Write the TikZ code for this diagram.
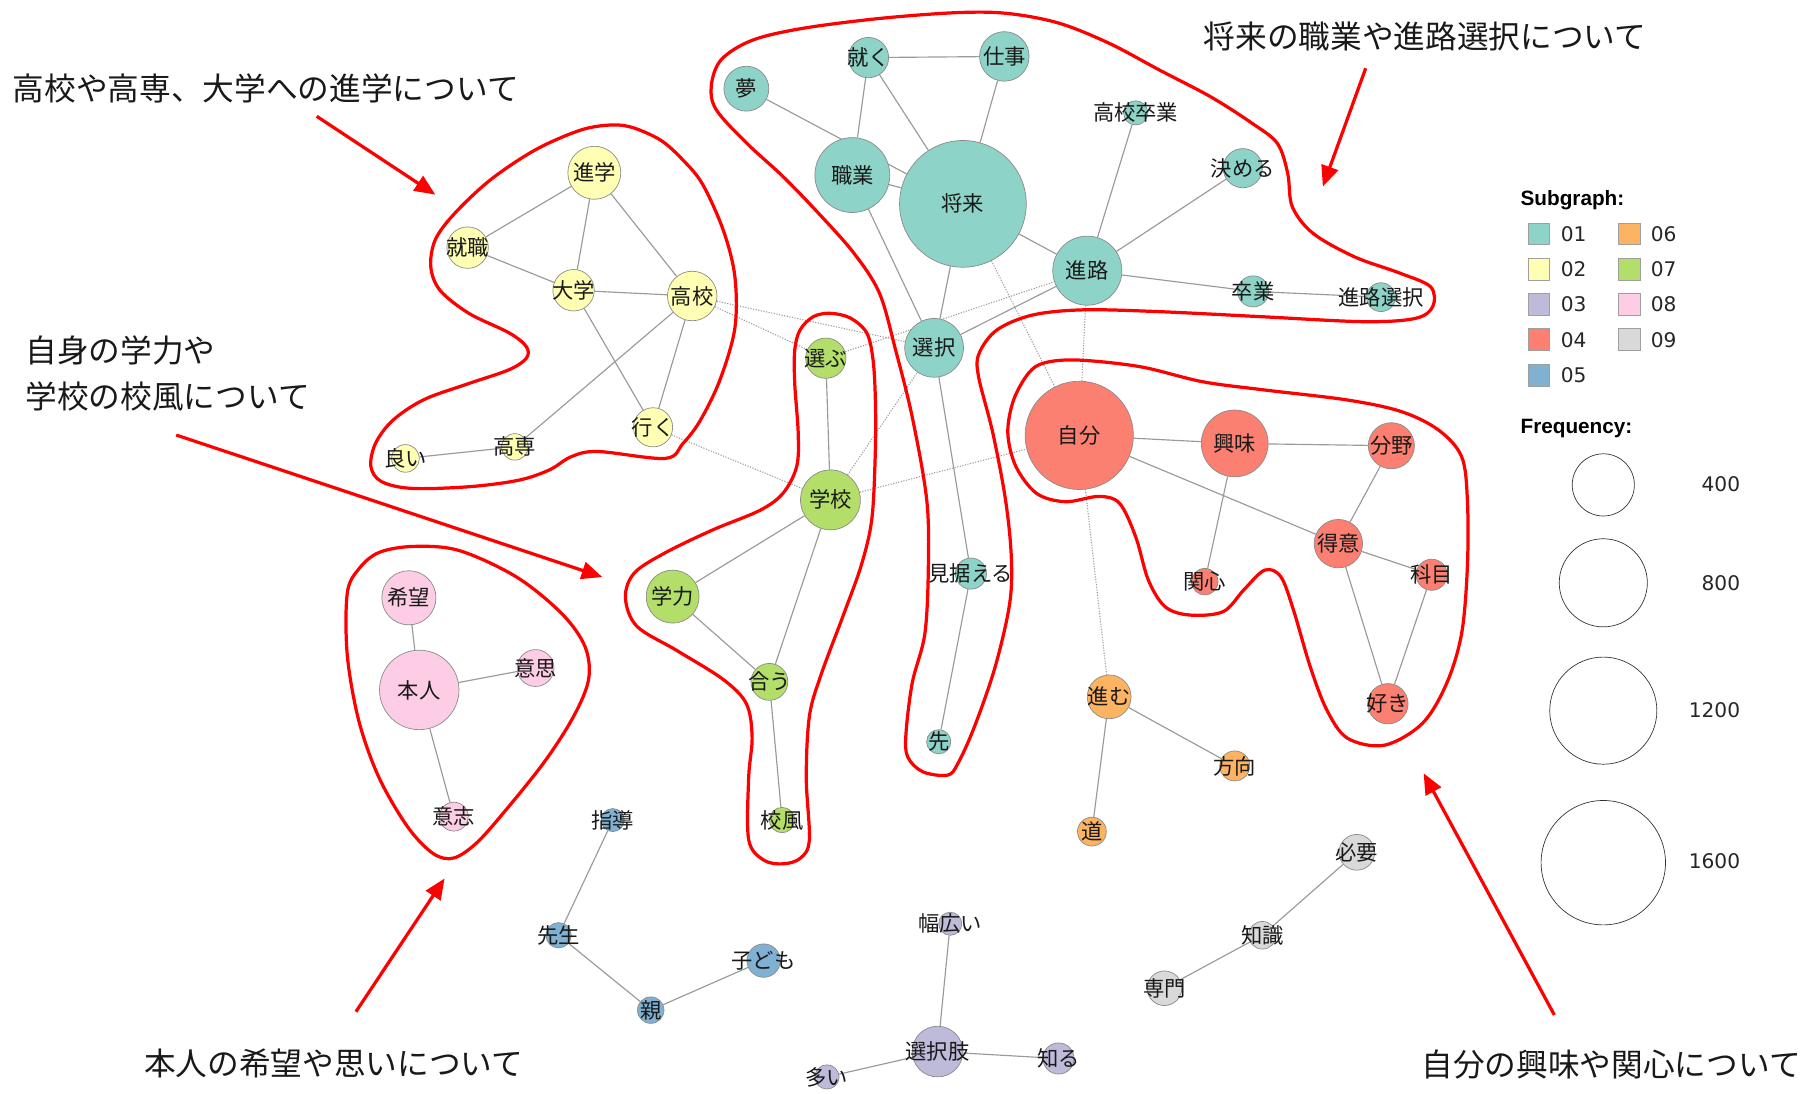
\documentclass[tikz,border=0pt]{standalone}
\usepackage{fontspec}
\newfontfamily\jpfont{Noto Sans CJK JP}
\newfontfamily\lgfont{DejaVu Sans}
\newfontfamily\hdfont{Liberation Sans}
\usetikzlibrary{arrows.meta,backgrounds}
\definecolor{cA}{HTML}{8DD3C7}
\definecolor{cB}{HTML}{FFFFB3}
\definecolor{cC}{HTML}{BEBADA}
\definecolor{cD}{HTML}{FB8072}
\definecolor{cE}{HTML}{80B1D3}
\definecolor{cF}{HTML}{FDB462}
\definecolor{cG}{HTML}{B3DE69}
\definecolor{cH}{HTML}{FCCDE5}
\definecolor{cI}{HTML}{D9D9D9}
\definecolor{nodeedge}{HTML}{8A8A8A}
\definecolor{linkc}{HTML}{9A9A9A}
\definecolor{redc}{HTML}{FF0000}
\tikzset{
  wn/.style={circle, draw=nodeedge, line width=0.6pt, inner sep=0pt},
  lab/.style={font=\jpfont\fontsize{18.5}{20}\selectfont, inner sep=0pt, text=black!90},
  link/.style={draw=linkc, line width=1pt},
  dlink/.style={draw=linkc, line width=0.9pt, dash pattern=on 1pt off 1.3pt},
  outline/.style={draw=redc, line width=2.8pt},
  callout/.style={draw=redc, line width=2.8pt, -{Triangle[length=18pt,width=15pt]}},
  ttl/.style={font=\jpfont\fontsize{27.5}{30}\selectfont, anchor=west, inner sep=0pt, text=black!90},
  sq/.style={rectangle, draw=gray!75, line width=0.6pt, minimum size=19, inner sep=0pt},
  lgt/.style={font=\lgfont\fontsize{17.5}{20}\selectfont, inner sep=0pt, text=black!85},
  lgh/.style={font=\hdfont\bfseries\fontsize{18}{20}\selectfont, anchor=west, inner sep=0pt},
  fc/.style={circle, draw=black!80, line width=0.6pt, inner sep=0pt}
}
\newcommand{\kw}[5]{\node[wn,fill=#2,minimum size=#4,label={[lab]center:#5}] (#1) at (#3) {};}
\begin{document}
\begin{tikzpicture}[x=1pt,y=-1pt]
\useasboundingbox (0,0) rectangle (1568,949);
% ---- subgraph 01
\kw{yume}{cA}{648,77}{39}{夢}
\kw{tsuku}{cA}{754,50}{35}{就く}
\kw{shigoto}{cA}{872,49}{43}{仕事}
\kw{shokugyo}{cA}{740,152}{65}{職業}
\kw{shorai}{cA}{836,177}{110}{将来}
\kw{kokosotsu}{cA}{986,98}{21}{高校卒業}
\kw{kimeru}{cA}{1079,146}{34}{決める}
\kw{shinro}{cA}{944,235}{60}{進路}
\kw{sotsugyo}{cA}{1088,253}{27}{卒業}
\kw{shinrosentaku}{cA}{1199,258}{25}{進路選択}
\kw{sentaku}{cA}{811,302}{51}{選択}
\kw{misueru}{cA}{843,498}{27}{見据える}
\kw{saki}{cA}{815,644}{21}{先}
% ---- subgraph 02
\kw{shingaku}{cB}{516,150}{46}{進学}
\kw{shushoku}{cB}{406,215}{36}{就職}
\kw{daigaku}{cB}{498,252}{36}{大学}
\kw{koko}{cB}{601,257}{43}{高校}
\kw{iku}{cB}{567,371}{34}{行く}
\kw{kosen}{cB}{447,388}{23}{高専}
\kw{yoi}{cB}{352,398}{24}{良い}
% ---- subgraph 07
\kw{erabu}{cG}{717,311}{35}{選ぶ}
\kw{gakko}{cG}{721,434}{52}{学校}
\kw{gakuryoku}{cG}{584,518}{46}{学力}
\kw{au}{cG}{668,592}{32}{合う}
\kw{kofu}{cG}{679,712}{22}{校風}
% ---- subgraph 08
\kw{kibo}{cH}{355,519}{47}{希望}
\kw{honnin}{cH}{364,599}{69}{本人}
\kw{ishiA}{cH}{465,580}{32}{意思}
\kw{ishiB}{cH}{394,709}{25}{意志}
% ---- subgraph 04
\kw{jibun}{cD}{937,378}{94}{自分}
\kw{kyomi}{cD}{1072,385}{58}{興味}
\kw{bunya}{cD}{1208,387}{40}{分野}
\kw{tokui}{cD}{1162,472}{42}{得意}
\kw{kanshin}{cD}{1046,505}{23}{関心}
\kw{kamoku}{cD}{1243,499}{27}{科目}
\kw{suki}{cD}{1205,611}{35}{好き}
% ---- subgraph 06
\kw{susumu}{cF}{963,605}{38}{進む}
\kw{hoko}{cF}{1072,665}{26}{方向}
\kw{michi}{cF}{948,722}{25}{道}
% ---- subgraph 05
\kw{shido}{cE}{532,712}{20}{指導}
\kw{sensei}{cE}{485,812}{22}{先生}
\kw{kodomo}{cE}{663,834}{29}{子ども}
\kw{oya}{cE}{565,877}{23}{親}
% ---- subgraph 03
\kw{habahiroi}{cC}{825,802}{20}{幅広い}
\kw{sentakushi}{cC}{814,913}{44}{選択肢}
\kw{oi}{cC}{718,935}{21}{多い}
\kw{shiru}{cC}{919,919}{27}{知る}
% ---- subgraph 09
\kw{hitsuyo}{cI}{1178,740}{31}{必要}
\kw{chishiki}{cI}{1096,812}{24}{知識}
\kw{senmon}{cI}{1011,858}{30}{専門}
% ---- edges
\begin{scope}[on background layer]
\fill[white] (0,0) rectangle (1568,949);
\draw[link] (yume) -- (shorai);
\draw[link] (tsuku) -- (shigoto);
\draw[link] (tsuku) -- (shokugyo);
\draw[link] (tsuku) -- (shorai);
\draw[link] (shigoto) -- (shorai);
\draw[link] (shokugyo) -- (shorai);
\draw[link] (shokugyo) -- (sentaku);
\draw[link] (shorai) -- (sentaku);
\draw[link] (shorai) -- (shinro);
\draw[link] (kokosotsu) -- (shinro);
\draw[link] (kimeru) -- (shinro);
\draw[link] (shinro) -- (sotsugyo);
\draw[link] (sotsugyo) -- (shinrosentaku);
\draw[link] (shinro) -- (sentaku);
\draw[link] (sentaku) -- (misueru);
\draw[link] (misueru) -- (saki);
\draw[link] (shingaku) -- (shushoku);
\draw[link] (shingaku) -- (daigaku);
\draw[link] (shingaku) -- (koko);
\draw[link] (shushoku) -- (daigaku);
\draw[link] (daigaku) -- (koko);
\draw[link] (daigaku) -- (iku);
\draw[link] (koko) -- (iku);
\draw[link] (koko) -- (kosen);
\draw[link] (kosen) -- (yoi);
\draw[link] (erabu) -- (gakko);
\draw[link] (gakko) -- (gakuryoku);
\draw[link] (gakko) -- (au);
\draw[link] (gakuryoku) -- (au);
\draw[link] (au) -- (kofu);
\draw[link] (kibo) -- (honnin);
\draw[link] (honnin) -- (ishiA);
\draw[link] (honnin) -- (ishiB);
\draw[link] (jibun) -- (kyomi);
\draw[link] (kyomi) -- (bunya);
\draw[link] (jibun) -- (tokui);
\draw[link] (kyomi) -- (kanshin);
\draw[link] (bunya) -- (tokui);
\draw[link] (tokui) -- (kamoku);
\draw[link] (tokui) -- (suki);
\draw[link] (kamoku) -- (suki);
\draw[link] (susumu) -- (hoko);
\draw[link] (susumu) -- (michi);
\draw[link] (shido) -- (sensei);
\draw[link] (sensei) -- (oya);
\draw[link] (oya) -- (kodomo);
\draw[link] (habahiroi) -- (sentakushi);
\draw[link] (sentakushi) -- (oi);
\draw[link] (sentakushi) -- (shiru);
\draw[link] (hitsuyo) -- (chishiki);
\draw[link] (chishiki) -- (senmon);
% dotted links between subgraphs
\draw[dlink] (koko) -- (sentaku);
\draw[dlink] (koko) -- (erabu);
\draw[dlink] (erabu) -- (shinro);
\draw[dlink] (iku) -- (gakko);
\draw[dlink] (gakko) -- (sentaku);
\draw[dlink] (gakko) -- (jibun);
\draw[dlink] (shorai) -- (jibun);
\draw[dlink] (shinro) -- (jibun);
\draw[dlink] (jibun) -- (susumu);
\end{scope}
% ---- red outlines
\draw[outline] plot[smooth cycle, tension=0.55] coordinates {
 (531,108.5) (550,111) (574,122) (593,139) (610,160) (628,200) (638,240) (638,285)
 (625,330) (608,365) (593,385) (577.5,398) (519,392) (496,396.5) (477,408) (450,417)
 (407,422.6) (357,424) (331,418) (322,405) (326,385) (341,365) (368,347) (407,333)
 (442,321) (457,311) (457,301) (442,289) (407,272) (382,252) (374,231.5) (378,208)
 (395,185) (426,156) (465,130) (504,113)};
\draw[outline] plot[smooth cycle, tension=0.55] coordinates {
 (617.5,75) (626,52) (653,35) (697,24.6) (764,16) (830,11) (874,11.6) (919,20)
 (963,37.6) (1007,61) (1051,84) (1087,107) (1109,124.5) (1118,150.5) (1122,179.5)
 (1140,202.6) (1176,223) (1215,237) (1242,249) (1244,266) (1229,276.4) (1184.5,279.3)
 (1096,275) (1007,270.6) (941,269) (896.5,273.5) (865.5,286.5) (850,307) (849.6,327)
 (862,376) (873,434) (878,483) (876.6,524) (864,579) (846,631) (831.6,663) (822.6,673)
 (801,670) (788,657) (786.6,636.7) (792,593) (803,550) (806,492) (804.6,434) (792,362)
 (777.6,304) (763.6,254.7) (741.5,220) (710.5,185) (679.5,153) (648.5,124.5) (622,95.5)};
\draw[outline] plot[smooth cycle, tension=0.55] coordinates {
 (720.6,272) (738,276) (752.5,289) (758,312.5) (760,347) (760,391) (757,450) (748,490)
 (732.6,533) (712.6,586.5) (702.7,622) (700,675) (702.7,729) (695,745) (680,750)
 (663,746.7) (650,729) (650,675) (653,640) (648,611) (628,590) (588,565) (553,543.8)
 (543,519) (550.7,497.5) (578,479.7) (619,460) (660,443) (680,428) (691.7,405)
 (693,376) (690,333) (690,304) (694.6,286.5) (706,275)};
\draw[outline] plot[smooth cycle, tension=0.55] coordinates {
 (359,474.4) (398.7,478) (448.5,501) (488,533) (508,561.6) (511,590) (498,622)
 (473,661) (438.6,704) (413.6,732) (393.7,745) (376,741) (354,718) (329,675)
 (311.5,625.7) (301.5,568.7) (301.5,515) (311.5,494) (329,479.7)};
\draw[outline] plot[smooth cycle, tension=0.55] coordinates {
 (907,315) (936,312.6) (990,318.4) (1044,331.4) (1098,338.6) (1170,347.3) (1216.8,357.4)
 (1249,373.4) (1269,396.5) (1274,434) (1274,492) (1269,550) (1256,593.3) (1235,628)
 (1202,647) (1170,641) (1152,616.5) (1137.6,579) (1123,529.6) (1112,500.7) (1098,495)
 (1080,512) (1062,531) (1033,534) (1011.6,526.8) (997,503.6) (986,466) (972,437)
 (954,431) (925,435.6) (900,428.4) (882,405) (875,376) (880,347.3) (893,324)};
% ---- callout texts
\node[ttl] (t1) at (11,77) {高校や高専、大学への進学について};
\node[ttl] (t2) at (1045,32) {将来の職業や進路選択について};
\node[ttl] (t3a) at (22,304) {自身の学力や};
\node[ttl] (t3b) at (22,344.5) {学校の校風について};
\node[ttl] (t4) at (125,923) {本人の希望や思いについて};
\node[ttl] (t5) at (1234,924.5) {自分の興味や関心について};
% ---- callout arrows
\coordinate (a1s) at (275,101);   \coordinate (a1e) at (378,169);
\coordinate (a2s) at (1185.7,59.3); \coordinate (a2e) at (1148.5,162);
\coordinate (a3s) at (153,377.7); \coordinate (a3e) at (523,501);
\coordinate (a4s) at (309,878.4); \coordinate (a4e) at (386,762.7);
\coordinate (a5s) at (1349.5,881.2); \coordinate (a5e) at (1236,671.4);
\draw[callout] (a1s) -- (a1e);
\draw[callout] (a2s) -- (a2e);
\draw[callout] (a3s) -- (a3e);
\draw[callout] (a4s) -- (a4e);
\draw[callout] (a5s) -- (a5e);
% ---- legend
\node[lgh] (sgt) at (1320,174) {Subgraph:};
\node[sq,fill=cA] (s1) at (1336,203) {};   \node[lgt,anchor=west] (l1) at (1355,203) {01};
\node[sq,fill=cB] (s2) at (1336,233.5) {}; \node[lgt,anchor=west] (l2) at (1355,233.5) {02};
\node[sq,fill=cC] (s3) at (1336,264) {};   \node[lgt,anchor=west] (l3) at (1355,264) {03};
\node[sq,fill=cD] (s4) at (1336,295) {};   \node[lgt,anchor=west] (l4) at (1355,295) {04};
\node[sq,fill=cE] (s5) at (1336,326) {};   \node[lgt,anchor=west] (l5) at (1355,326) {05};
\node[sq,fill=cF] (s6) at (1414.5,203) {};   \node[lgt,anchor=west] (l6) at (1433,203) {06};
\node[sq,fill=cG] (s7) at (1414.5,233.5) {}; \node[lgt,anchor=west] (l7) at (1433,233.5) {07};
\node[sq,fill=cH] (s8) at (1414.5,264) {};   \node[lgt,anchor=west] (l8) at (1433,264) {08};
\node[sq,fill=cI] (s9) at (1414.5,295) {};   \node[lgt,anchor=west] (l9) at (1433,295) {09};
\node[lgh] (frt) at (1320,372) {Frequency:};
\node[fc,minimum size=54] (f1) at (1392,421) {};
\node[fc,minimum size=76.5] (f2) at (1392,506) {};
\node[fc,minimum size=93] (f3) at (1392,617) {};
\node[fc,minimum size=108] (f4) at (1392,749) {};
\node[lgt,anchor=east] (fl1) at (1511,420.5) {400};
\node[lgt,anchor=east] (fl2) at (1511,506) {800};
\node[lgt,anchor=east] (fl3) at (1511,617) {1200};
\node[lgt,anchor=east] (fl4) at (1511,748) {1600};
\end{tikzpicture}
\end{document}
